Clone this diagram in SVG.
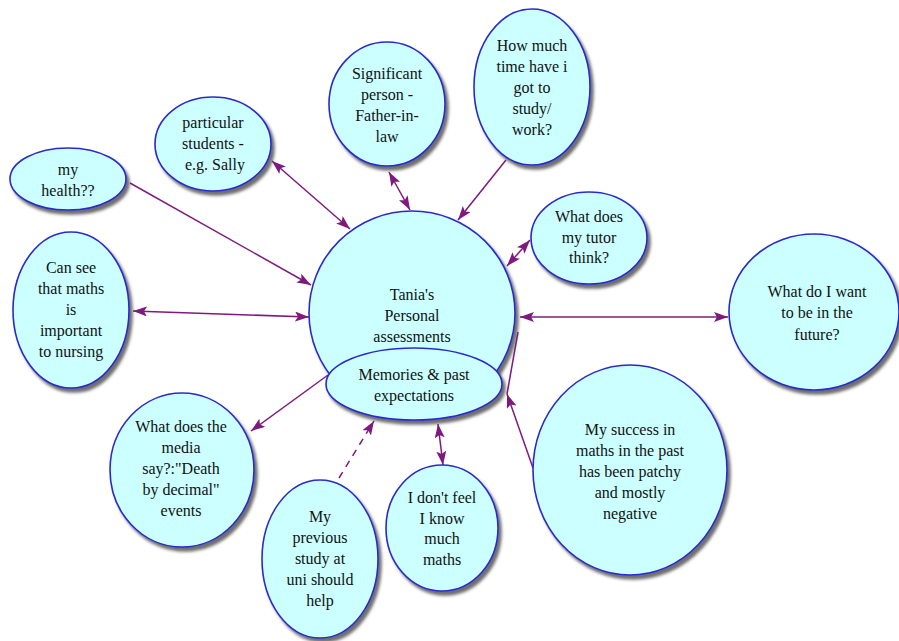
<svg xmlns="http://www.w3.org/2000/svg" width="899" height="641" viewBox="0 0 899 641">
<style>
.n ellipse{fill:#ccffff;stroke:#2a2acc;stroke-width:1.6;filter:url(#sh)}
.n text{font-family:'Liberation Serif','Times New Roman',Tinos,'Noto Serif','DejaVu Serif',FreeSerif,Times,serif;font-size:16px;fill:#111;text-anchor:middle}
.c line{stroke:#7e1a7e;stroke-width:1.5;fill:none}
.one{marker-end:url(#ah)}
.two{marker-start:url(#ah);marker-end:url(#ah)}
.dash{stroke-dasharray:7 6}
</style>
<defs>
<filter id="sh" x="-20%" y="-20%" width="140%" height="140%">
<feDropShadow dx="3" dy="4" stdDeviation="1.5" flood-color="#4a4a4a" flood-opacity="0.8"/>
</filter>
<marker id="ah" viewBox="0 0 14 10" refX="14" refY="5" markerWidth="14" markerHeight="10" markerUnits="userSpaceOnUse" orient="auto-start-reverse">
<path d="M0,0 L14,5 L0,10 L3,5 Z" fill="#7e1a7e"/>
</marker>
</defs>
<rect width="899" height="641" fill="#fff"/>
<g id="connectors" class="c">
<line class="one" x1="130" y1="183" x2="311" y2="285"/>
<line class="two" x1="272" y1="161" x2="350" y2="229"/>
<line class="two" x1="389" y1="172" x2="410" y2="210"/>
<line class="one" x1="506" y1="160" x2="458" y2="220"/>
<line class="two" x1="507" y1="266" x2="530" y2="240"/>
<line class="two" x1="520" y1="317" x2="728" y2="317"/>
<line class="two" x1="133" y1="311" x2="309" y2="317"/>
<line class="one" x1="328" y1="375" x2="251" y2="431"/>
<line class="one dash" x1="339" y1="478" x2="374" y2="421"/>
<line class="two" x1="438" y1="424" x2="443" y2="465"/>
<line class="one" x1="533" y1="468" x2="507" y2="394"/>
<line x1="507" y1="394" x2="518" y2="332"/>
</g>
<g id="central" class="n">
<ellipse cx="412" cy="313" rx="103" ry="102"/>
<text x="412" y="300">Tania's</text>
<text x="412" y="321">Personal</text>
<text x="412" y="342">assessments</text>
</g>
<g id="memories" class="n">
<ellipse cx="414" cy="384" rx="88" ry="36"/>
<text x="414" y="380">Memories &amp; past</text>
<text x="414" y="401">expectations</text>
</g>
<g id="health" class="n">
<ellipse cx="68" cy="179" rx="58" ry="31"/>
<text x="68" y="175">my</text>
<text x="68" y="196">health??</text>
</g>
<g id="students" class="n">
<ellipse cx="213" cy="144" rx="58" ry="47"/>
<text x="213" y="128">particular</text>
<text x="213" y="149">students -</text>
<text x="215" y="170">e.g. Sally</text>
</g>
<g id="significant" class="n">
<ellipse cx="387" cy="104" rx="58" ry="62"/>
<text x="387" y="79">Significant</text>
<text x="387" y="100">person -</text>
<text x="387" y="121">Father-in-</text>
<text x="387" y="142">law</text>
</g>
<g id="time" class="n">
<ellipse cx="532" cy="87" rx="58" ry="78"/>
<text x="532" y="51">How much</text>
<text x="532" y="72">time have i</text>
<text x="532" y="93">got to</text>
<text x="532" y="114">study/</text>
<text x="532" y="135">work?</text>
</g>
<g id="tutor" class="n">
<ellipse cx="589" cy="238" rx="58" ry="46"/>
<text x="589" y="222">What does</text>
<text x="589" y="243">my tutor</text>
<text x="589" y="263">think?</text>
</g>
<g id="future" class="n">
<ellipse cx="814" cy="312" rx="85" ry="78"/>
<text x="817" y="297">What do I want</text>
<text x="817" y="318">to be in the</text>
<text x="817" y="340">future?</text>
</g>
<g id="cansee" class="n">
<ellipse cx="71" cy="310" rx="58" ry="78"/>
<text x="71" y="273">Can see</text>
<text x="71" y="294">that maths</text>
<text x="71" y="315">is</text>
<text x="71" y="336">important</text>
<text x="71" y="357">to nursing</text>
</g>
<g id="media" class="n">
<ellipse cx="182" cy="470" rx="72" ry="77"/>
<text x="181" y="432">What does the</text>
<text x="181" y="453">media</text>
<text x="181" y="474">say?:"Death</text>
<text x="181" y="495">by decimal"</text>
<text x="181" y="516">events</text>
</g>
<g id="previous" class="n">
<ellipse cx="320" cy="559" rx="58" ry="79"/>
<text x="320" y="522">My</text>
<text x="320" y="543">previous</text>
<text x="320" y="564">study at</text>
<text x="320" y="585">uni should</text>
<text x="320" y="606">help</text>
</g>
<g id="dontfeel" class="n">
<ellipse cx="442" cy="528" rx="56" ry="63"/>
<text x="442" y="503">I don't feel</text>
<text x="442" y="524">I know</text>
<text x="442" y="544">much</text>
<text x="442" y="565">maths</text>
</g>
<g id="success" class="n">
<ellipse cx="630" cy="470" rx="97" ry="105"/>
<text x="630" y="435">My success in</text>
<text x="630" y="456">maths in the past</text>
<text x="630" y="477">has been patchy</text>
<text x="630" y="498">and mostly</text>
<text x="630" y="519">negative</text>
</g>
</svg>
